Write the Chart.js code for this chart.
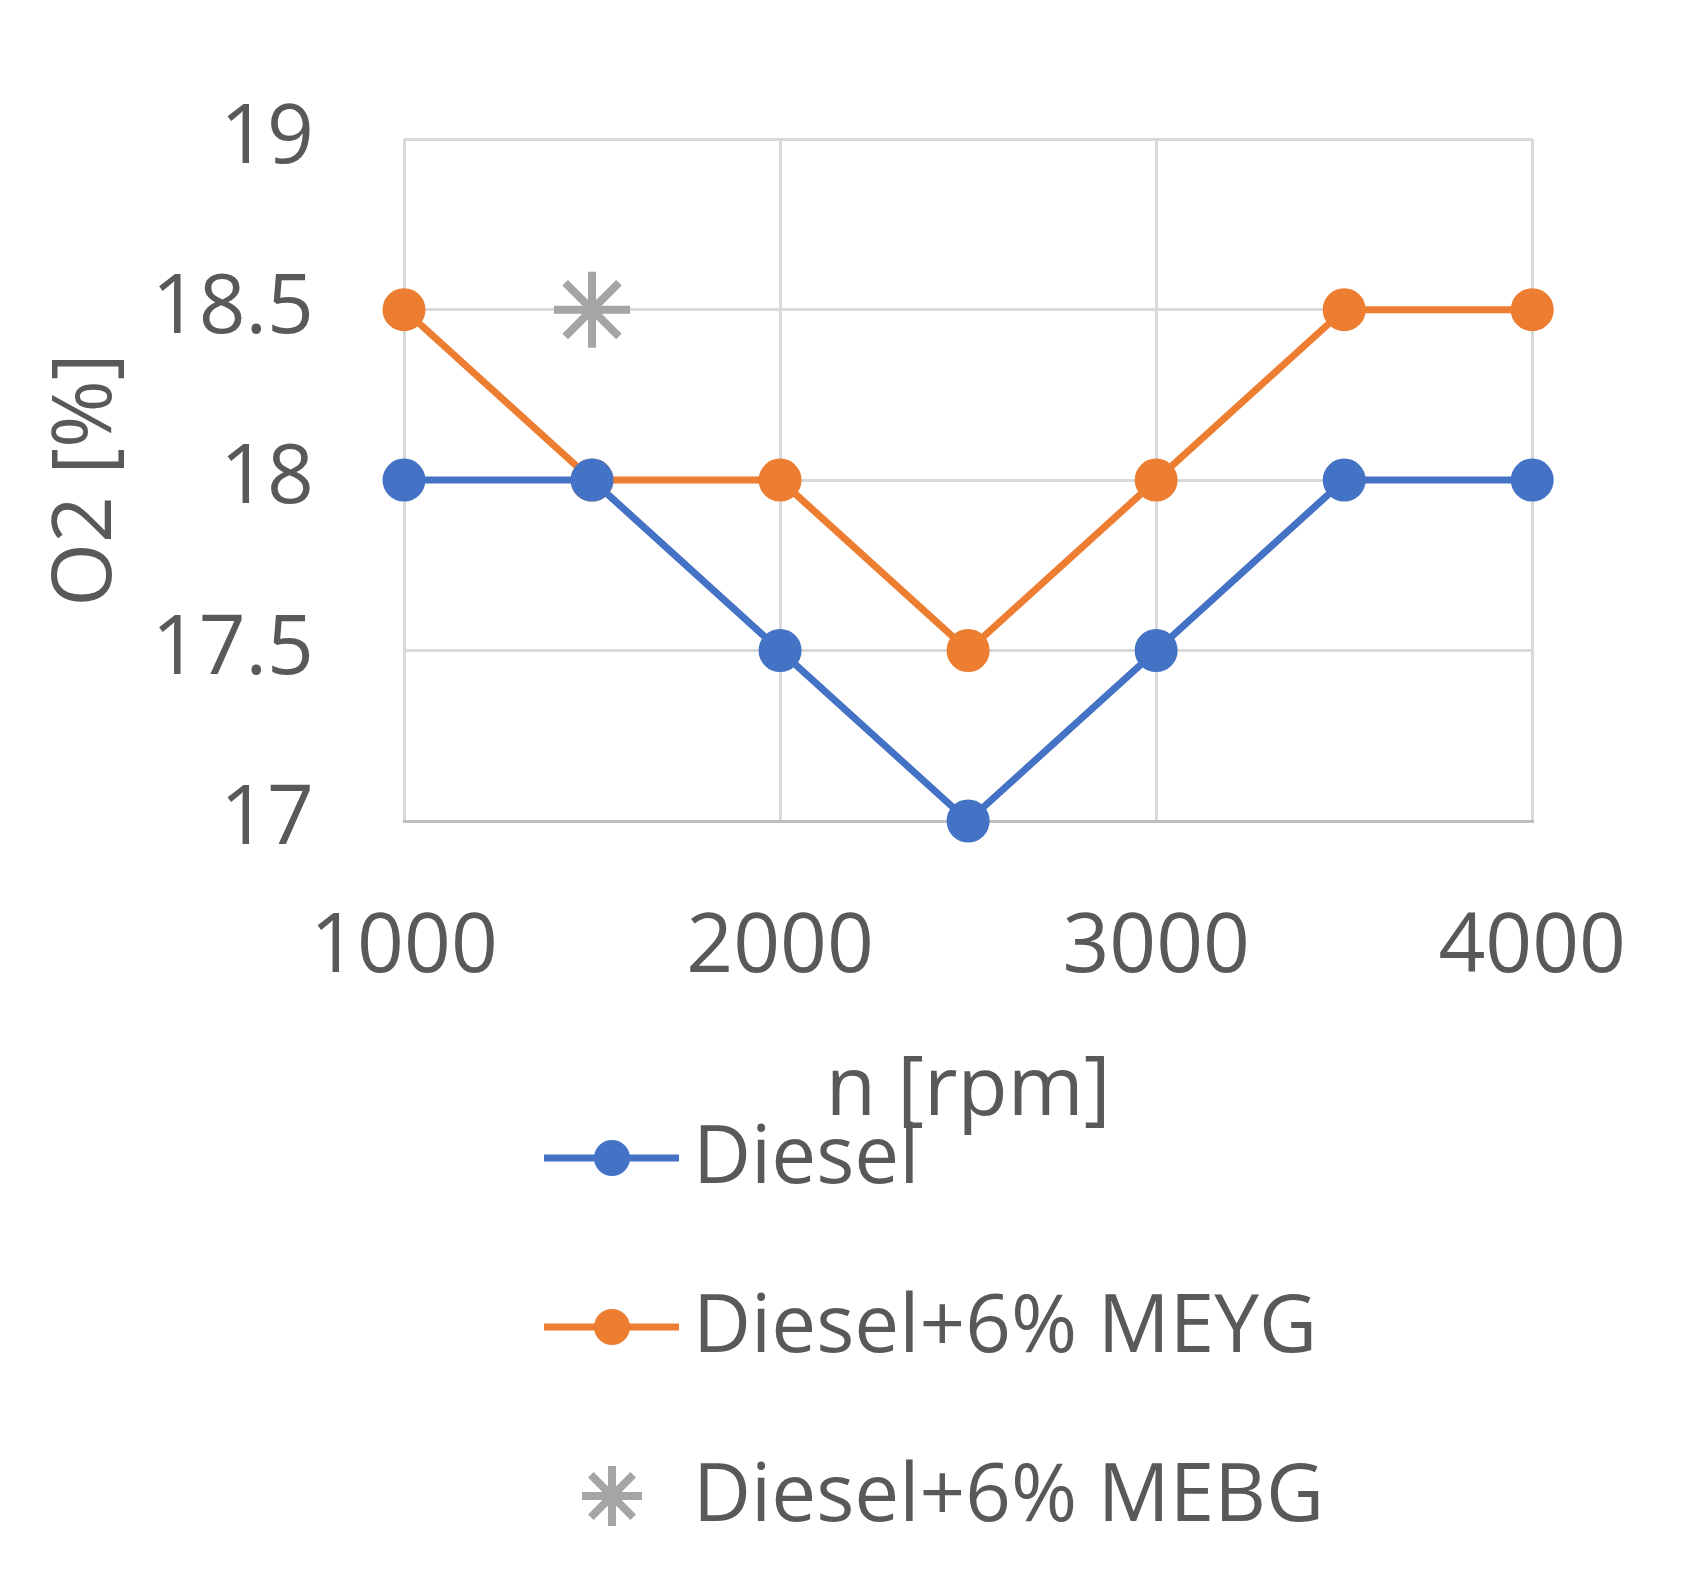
<!DOCTYPE html>
<html><head><meta charset="utf-8">
<script src="https://cdn.jsdelivr.net/npm/chart.js@4"></script>
<style>html,body{margin:0;padding:0;background:#fff}#w{width:1704px;height:1581px}</style>
</head><body><div id="w"><canvas id="c" width="1704" height="1581"></canvas></div>
<script>
const rpm = [1000,1500,2000,2500,3000,3500,4000];
const diesel = [18,18,17.5,17,17.5,18,18];
const meyg = [18.5,18,18,17.5,18,18.5,18.5];
const mebgX = [1500];
const mebg = [18.5];
const xTicks = [1000,2000,3000,4000];
const yTicks = [17,17.5,18,18.5,19];
const FONT = "'Open Sans', 'Noto Sans', sans-serif";
const legendPlugin = {
  id:'vlegend',
  afterDraw(chart){
    const ctx = chart.ctx;
    const rows = [1158,1327,1496];
    chart.data.datasets.forEach((ds,i)=>{
      const y = rows[i];
      ctx.save();
      if(ds.showLine!==false){
        ctx.strokeStyle = ds.borderColor; ctx.lineWidth = 7;
        ctx.beginPath(); ctx.moveTo(544,y); ctx.lineTo(679,y); ctx.stroke();
      }
      if(ds.pointStyle==='circle'){ctx.fillStyle=ds.pointBackgroundColor;ctx.beginPath();ctx.arc(612,y,ds.pointRadius,0,Math.PI*2);ctx.fill();}
      else{ctx.strokeStyle=ds.pointBorderColor;ctx.lineWidth=ds.pointBorderWidth;Chart.helpers.drawPoint(ctx,{pointStyle:'star',radius:30,borderWidth:ds.pointBorderWidth,rotation:0},612,y);}
      ctx.fillStyle='#595959'; ctx.font = "80px "+FONT; ctx.textBaseline='middle';
      ctx.fillText(ds.label,693,y+2);
      ctx.restore();
    });
  }
};
new Chart(document.getElementById('c'),{
  type:'line',
  data:{datasets:[
    {label:'Diesel',data:rpm.map((x,i)=>({x,y:diesel[i]})),borderColor:'#4472C4',backgroundColor:'#4472C4',pointBackgroundColor:'#4472C4',pointBorderColor:'#4472C4',borderWidth:7,pointRadius:18,pointStyle:'circle',clip:false},
    {label:'Diesel+6% MEYG',data:rpm.map((x,i)=>({x,y:meyg[i]})),borderColor:'#ED7D31',backgroundColor:'#ED7D31',pointBackgroundColor:'#ED7D31',pointBorderColor:'#ED7D31',borderWidth:7,pointRadius:18,pointStyle:'circle',clip:false},
    {label:'Diesel+6% MEBG',data:mebgX.map((x,i)=>({x,y:mebg[i]})),showLine:false,borderColor:'#A5A5A5',pointBorderColor:'#A5A5A5',pointBackgroundColor:'#A5A5A5',pointBorderWidth:8,pointRadius:38,pointStyle:'star',clip:false}
  ]},
  options:{
    responsive:false,animation:false,
    layout:{padding:{top:71,right:150,bottom:440,left:38}},
    plugins:{legend:{display:false},tooltip:{enabled:false}},
    scales:{
      x:{type:'linear',min:1000,max:4000,
        afterBuildTicks(a){a.ticks=xTicks.map(v=>({value:v}));},
        afterFit(a){a.height=320;},
        grid:{color:'#D9D9D9',lineWidth:3,drawTicks:false},border:{color:'#BFBFBF',width:3},
        ticks:{color:'#595959',font:{size:82,family:FONT},padding:78,maxRotation:0,callback:v=>String(v)},
        title:{display:true,text:'n [rpm]',color:'#595959',font:{size:82,family:FONT},padding:0}},
      y:{min:17,max:19,
        afterBuildTicks(a){a.ticks=yTicks.map(v=>({value:v}));},
        afterFit(a){a.width=366;},
        grid:{color:'#D9D9D9',lineWidth:3,drawTicks:false},border:{display:false},
        ticks:{color:'#595959',font:{size:82,family:FONT},padding:90,callback:v=>String(v)},
        title:{display:true,text:'O2 [%]',color:'#595959',font:{size:82,family:FONT},padding:0}}
    }
  },
  plugins:[legendPlugin]
});
</script></body></html>
